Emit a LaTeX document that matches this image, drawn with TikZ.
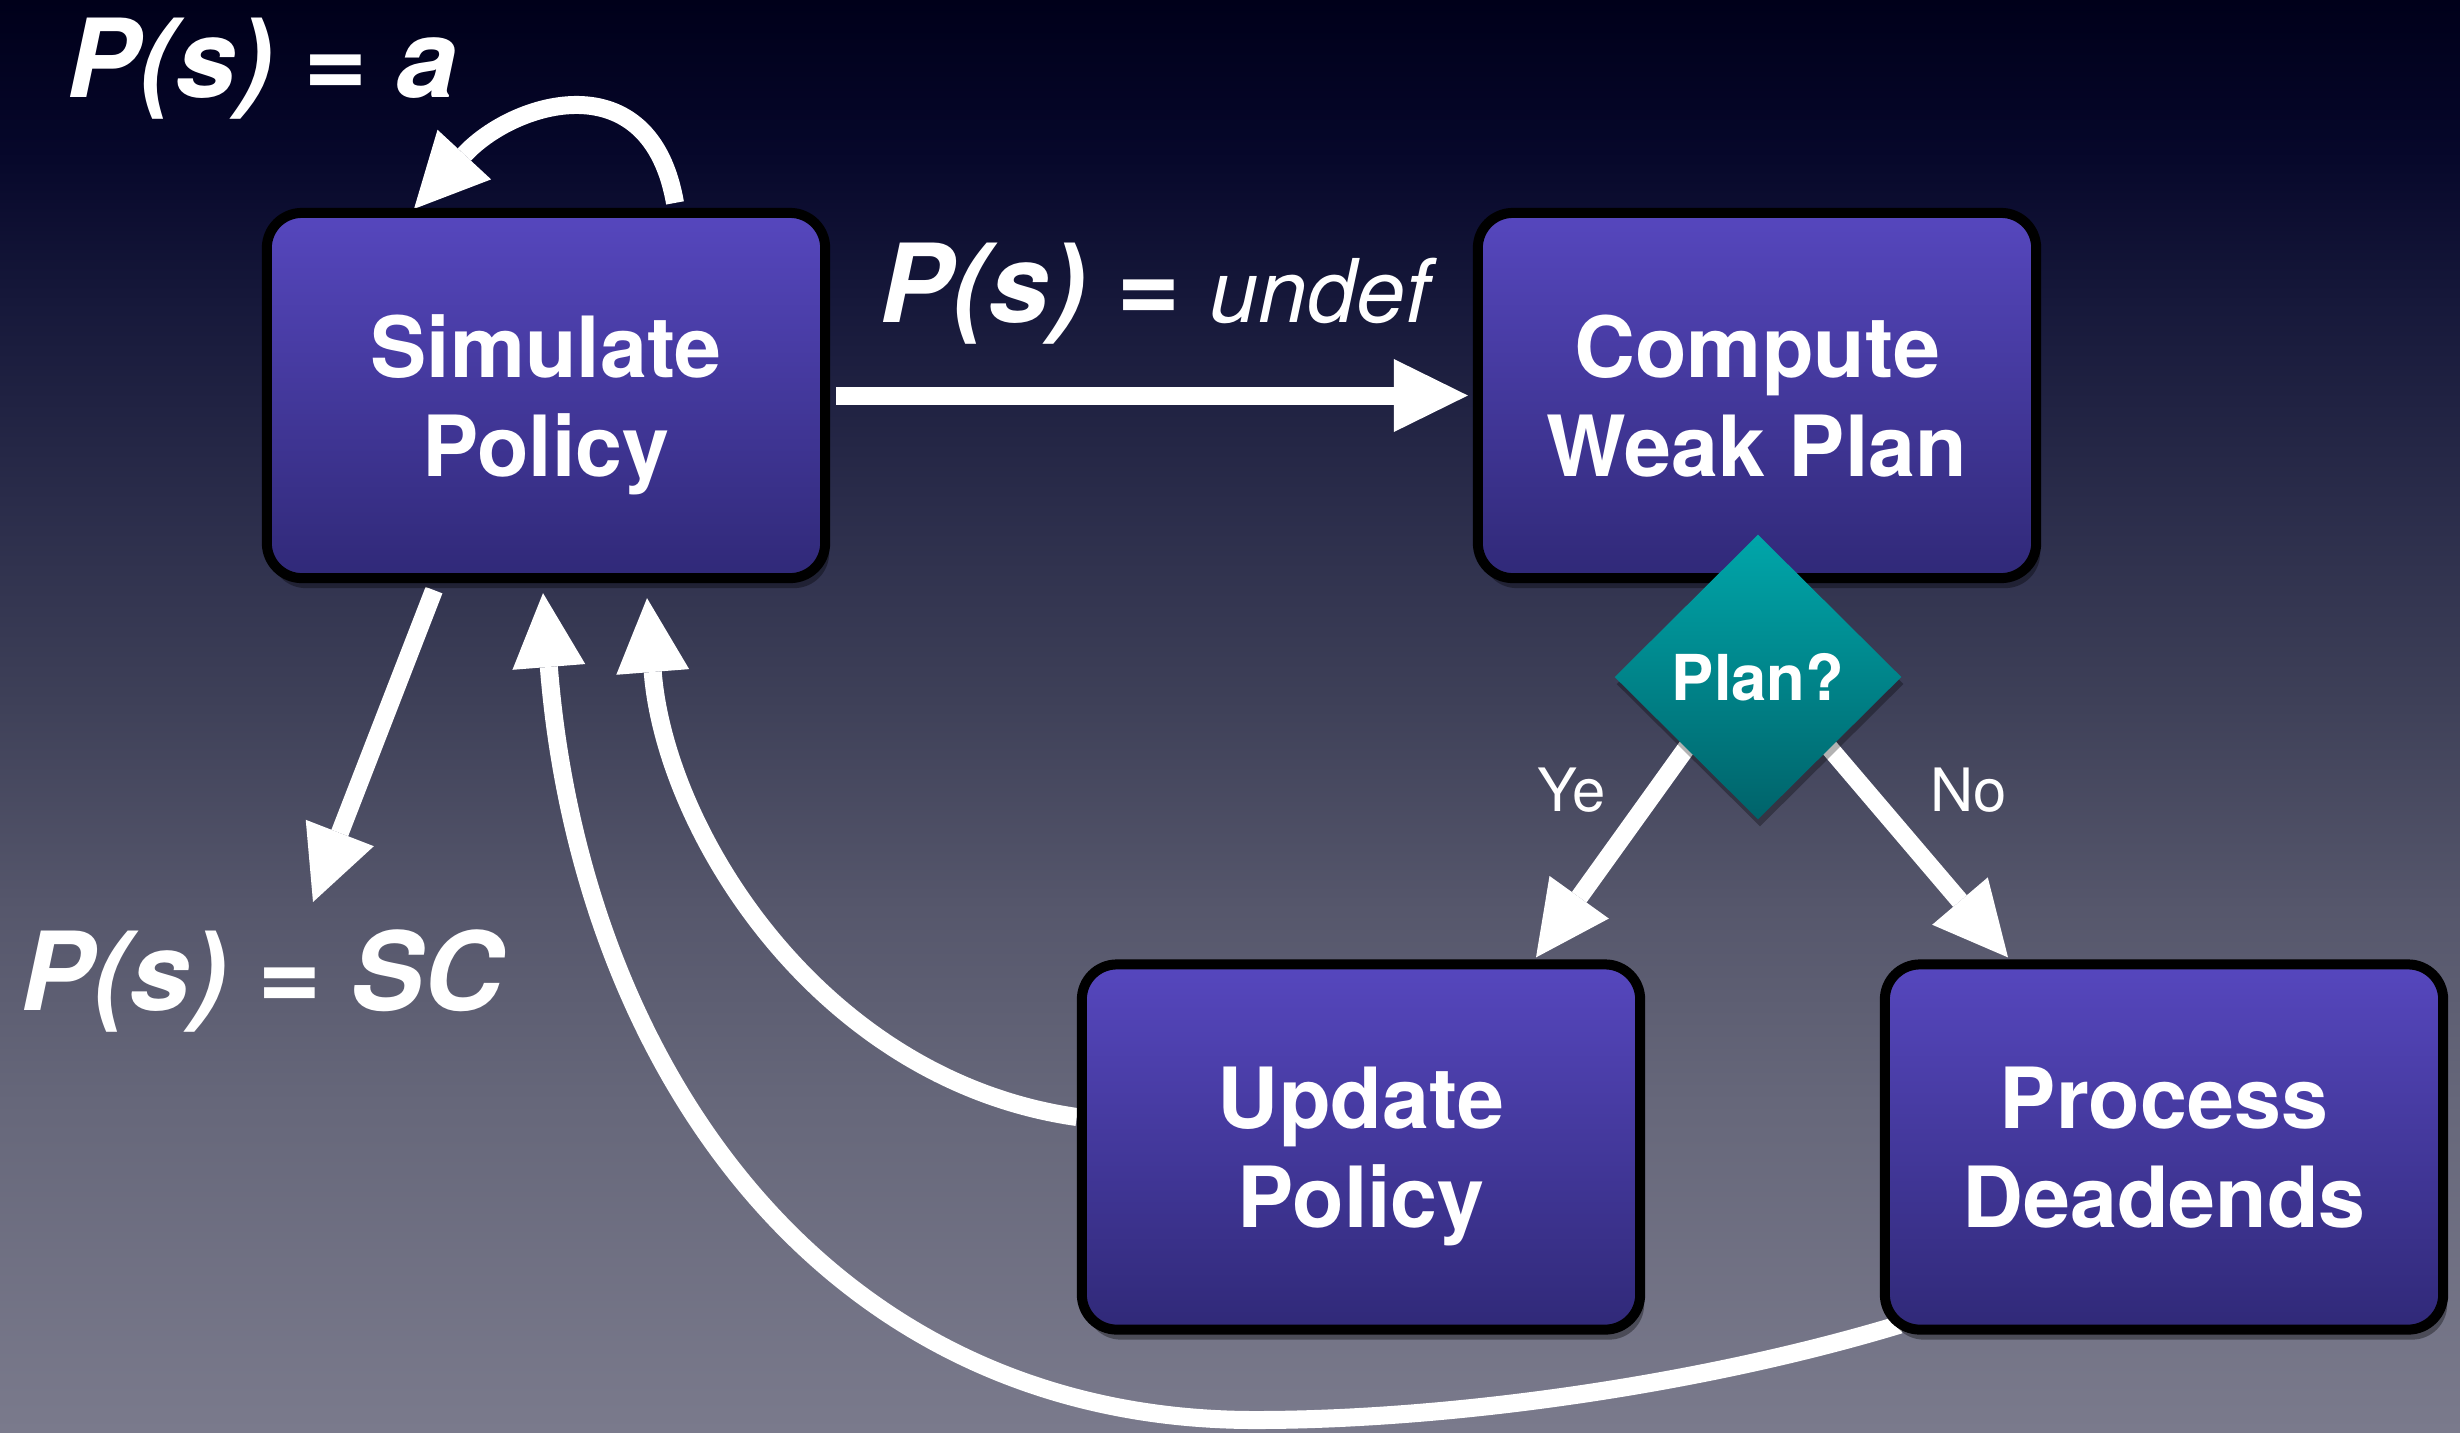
\documentclass[tikz,border=0pt]{standalone}
\usepackage{fontspec}
\setmainfont{TeX Gyre Heros}
\usetikzlibrary{arrows.meta,shapes.geometric,calc,shadows}

% backdrop colours, from the top edge down
\definecolor{bgH}{RGB}{0,0,26}
\definecolor{bgG}{RGB}{6,7,42}
\definecolor{bgF}{RGB}{22,24,58}
\definecolor{bgE}{RGB}{42,44,74}
\definecolor{bgD}{RGB}{62,64,88}
\definecolor{bgC}{RGB}{85,86,107}
\definecolor{bgB}{RGB}{102,103,122}
\definecolor{bgA}{RGB}{122,122,140}
% box and decision fills
\definecolor{boxtop}{RGB}{86,71,190}
\definecolor{boxbot}{RGB}{48,41,120}
\definecolor{tealtop}{RGB}{0,166,170}
\definecolor{tealbot}{RGB}{0,99,106}

\pgfdeclarelayer{canvas}
\pgfdeclarelayer{links}
\pgfsetlayers{canvas,links,main}

\begin{document}
\begin{tikzpicture}[x=0.01cm, y=-0.01cm,
  band/.style 2 args={top color=#1, bottom color=#2, draw=none},
  stepbox/.style={rectangle, rounded corners=0.35cm, draw=black, line width=0.1cm,
    top color=boxtop, bottom color=boxbot,
    minimum width=5.58cm, minimum height=3.65cm,
    text=white, font=\fontsize{24}{28}\selectfont\bfseries, align=center, text depth=0pt,
    drop shadow={shadow xshift=0.04cm, shadow yshift=-0.1cm, opacity=0.35, fill=black}},
  decide/.style={diamond, minimum width=2.87cm, minimum height=2.85cm, inner sep=0pt,
    top color=tealtop, bottom color=tealbot,
    text=white, font=\fontsize{18}{21}\selectfont\bfseries,
    drop shadow={shadow xshift=0.02cm, shadow yshift=-0.07cm, opacity=0.3, fill=black}},
  flow/.style={draw=white, line width=0.18cm,
    -{Triangle[length=0.74cm, width=0.73cm, line width=0pt]}},
  eqlabel/.style={text=white, inner sep=0pt, font=\fontsize{31}{36}\selectfont\bfseries\itshape},
  branch/.style={text=white, inner sep=0pt, font=\fontsize{17}{20}\selectfont}]

\useasboundingbox (0,0) rectangle (2460,1432);
\begin{pgfonlayer}{canvas}
  % night-sky backdrop, lightening towards the bottom
  \fill[band={bgH}{bgG}] (0,0) rectangle (2460,152);
  \fill[band={bgG}{bgF}] (0,150) rectangle (2460,302);
  \fill[band={bgF}{bgE}] (0,300) rectangle (2460,502);
  \fill[band={bgE}{bgD}] (0,500) rectangle (2460,702);
  \fill[band={bgD}{bgC}] (0,700) rectangle (2460,902);
  \fill[band={bgC}{bgB}] (0,900) rectangle (2460,1102);
  \fill[band={bgB}{bgA}] (0,1100) rectangle (2460,1432);
\end{pgfonlayer}

% process steps and the decision
\node[stepbox] (sim) at (546,395.5) {Simulate\\Policy};
\node[stepbox] (cwp) at (1757,395.5) {Compute\\Weak Plan};
\node[stepbox] (upd) at (1361,1147) {Update\\Policy};
\node[stepbox] (pde) at (2164,1147) {Process\\Deadends};
\node[decide] (dia) at (1758,677) {Plan?};

% outcome labels
\node[eqlabel, anchor=base west] (pa) at (66,97) {P(s) = a};
\node[eqlabel, anchor=base west] (pu) at (879,322) {P(s) = {\fontsize{25}{30}\selectfont\mdseries undef}};
\node[eqlabel, anchor=base west] (psc) at (20,1010) {P(s) = SC};
\node[branch, anchor=base west] (ye) at (1537,811) {Ye};
\node[branch, anchor=base west] (no) at (1930,811) {No};

\coordinate (sctip) at (313,902);
\coordinate (loopbottom) at (1255,1420);

\begin{pgfonlayer}{links}
  % undefined state: go plan
  \draw[flow, shorten <=0.06cm, shorten >=0.05cm] (sim.east) -- (cwp.west);
  % action known: keep simulating
  \draw[flow] ($(sim.north)+(129,-5)$) .. controls +(-25,-143) and +(100,-108) .. ($(sim.north)+(-132,1)$);
  % strong cyclic: stop
  \draw[flow] ($(sim.south)+(-112,7)$) -- (sctip);
  % plan found: update the policy and resume
  \draw[flow] ($(upd.west)+(0,-30)$) .. controls +(-258,-37) and +(18,232) .. ($(sim.south)+(101,15)$);
  % no plan: handle dead ends and resume
  \draw[flow] ($(pde.south west)+(20,-10)$) .. controls (1700,1385) and (1450,1420) .. (loopbottom)
        .. controls (820,1420) and (580,1060) .. ($(sim.south)+(-3,10)$);
  % decision branches
  \draw[flow, shorten <=-0.3cm] (dia.south west) -- ($(upd.north)+(175,-2)$);
  \draw[flow, shorten <=-0.3cm] (dia.south east) -- ($(pde.north)+(-156,-2)$);
\end{pgfonlayer}
\end{tikzpicture}
\end{document}
